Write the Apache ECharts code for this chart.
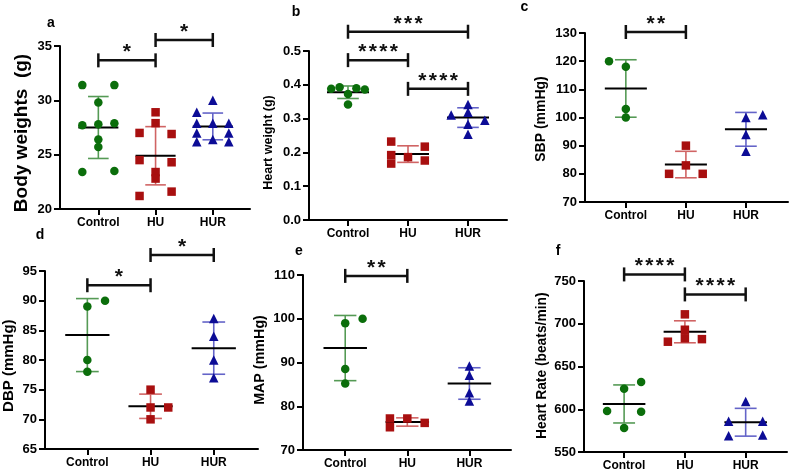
<!DOCTYPE html>
<html><head><meta charset="utf-8">
<script src="https://cdn.jsdelivr.net/npm/echarts@6/dist/echarts.min.js"></script>
<style>html,body{margin:0;padding:0;background:#fff}#c{width:789px;height:474px}</style>
</head><body><div id="c"></div>
<script>
// ---------- DATA ----------
const categories = ['Control', 'HU', 'HUR'];

// a: Body weights (g)
const aControl = [31.4, 31.4, 29.8, 27.7, 27.8, 27.9, 26.4, 25.7, 23.4, 23.5];
const aHU      = [28.9, 27.9, 27.0, 26.9, 24.5, 24.3, 23.4, 22.8, 21.2, 21.6];
const aHUR     = [30.0, 28.9, 27.9, 27.9, 27.9, 27.0, 27.0, 26.2, 26.4, 26.2];
const aSlots   = [[-2, 2, 0, -2, 0, 2, 0, 0, -2, 2], [0, 0, -2, 2, -2, 2, 0, 0, -2, 2], [0, -2, -2, 0, 2, -2, 2, -2, 0, 2]];
const aMean = [27.5, 24.9, 27.6];
const aSD   = [2.85, 2.68, 1.23];
const aBrackets = [{from: 0, to: 1, y: 33.68, label: '*'}, {from: 1, to: 2, y: 35.55, label: '*'}];

// b: Heart weight (g)
const bControl = [0.388, 0.393, 0.390, 0.386, 0.373, 0.342];
const bHU      = [0.232, 0.217, 0.192, 0.186, 0.167, 0.176];
const bHUR     = [0.342, 0.319, 0.311, 0.295, 0.283, 0.254];
const bSlots   = [[-2, -1, 1, 2, 0, 0], [-2, 2, -2, 0, -2, 2], [0, 0, -2, 2, 0, 0]];
const bMean = [0.378, 0.195, 0.303];
const bSD   = [0.0185, 0.0245, 0.029];
const bBrackets = [{from: 0, to: 2, y: 0.557, label: '***'}, {from: 0, to: 1, y: 0.473, label: '****'}, {from: 1, to: 2, y: 0.388, label: '****'}];

// c: SBP (mmHg)
const cControl = [120, 118, 103, 100];
const cHU      = [90, 80, 83, 80];
const cHUR     = [100, 101, 94, 88];
const cSlots   = [[-2, 0, 0, 0], [0, -2, 0, 2], [0, 2, 0, 0]];
const cMean = [110.3, 83.3, 95.8];
const cSD   = [10.2, 4.7, 6.0];
const cBrackets = [{from: 0, to: 1, y: 130.35, label: '**'}];

// d: DBP (mmHg)
const dControl = [89, 90, 80, 78];
const dHU      = [75, 72, 72, 70];
const dHUR     = [87, 84, 80, 77];
const dSlots   = [[0, 2, 0, 0], [0, 0, 2, 0], [0, 0, 0, 0]];
const dMean = [84.2, 72.2, 82.0];
const dSD   = [6.15, 2.05, 4.4];
const dBrackets = [{from: 0, to: 1, y: 92.6, label: '*'}, {from: 1, to: 2, y: 97.7, label: '*'}];

// e: MAP (mmHg)
const eControl = [99, 100, 88.5, 85.2];
const eHU      = [77.2, 77.2, 76.2, 75.2];
const eHUR     = [89.2, 87.1, 83.1, 81.2];
const eSlots   = [[0, 2, 0, 0], [-2, 0, 2, -2], [0, 0, 0, 0]];
const eMean = [93.3, 76.4, 85.2];
const eSD   = [7.45, 0.95, 3.6];
const eBrackets = [{from: 0, to: 1, y: 109.8, label: '**'}];

// f: Heart Rate (beats/min)
const fControl = [624, 632, 598, 597, 578];
const fHU      = [711, 693, 683, 679, 682];
const fHUR     = [609, 586, 586, 569, 570];
const fSlots   = [[0, 2, -2, 2, 0], [0, 0, 0, -2, 2], [0, -2, 2, -2, 2]];
const fMean = [606.2, 690.6, 584.8];
const fSD   = [22.25, 12.85, 16.25];
const fBrackets = [{from: 0, to: 1, y: 757.7, label: '****'}, {from: 1, to: 2, y: 734.3, label: '****'}];

// ---------- STYLE / LAYOUT ----------
const FONT = '"Liberation Sans", Arial, sans-serif';
const pointColors = ['#0b6e0b', '#a80f0f', '#0c0c96'];
const sdColors = ['#559a55', '#d06464', '#6464c8'];
const symbols = ['circle', 'rect', 'triangle'];
const symbolSizes = [8.5, 8.5, 9.5];
const slotW = 0.14;

const panels = [
  {letter: 'a', title: 'Body weights  (g)', groups: [aControl, aHU, aHUR], slots: aSlots, mean: aMean, sd: aSD, brackets: aBrackets,
   y: [20, 35, 5], dec: 0, grid: {left: 60, top: 46, width: 190, height: 163}, x: [-0.67, 2.65],
   titlePos: [22, 133], titleSize: 19, letterPos: [51, 23]},
  {letter: 'b', title: 'Heart weight (g)', groups: [bControl, bHU, bHUR], slots: bSlots, mean: bMean, sd: bSD, brackets: bBrackets,
   y: [0, 0.5, 0.1], dec: 1, grid: {left: 309, top: 51, width: 198, height: 169}, x: [-0.65, 2.65],
   titlePos: [268.5, 142.5], titleSize: 12.5, letterPos: [296, 12]},
  {letter: 'c', title: 'SBP (mmHg)', groups: [cControl, cHU, cHUR], slots: cSlots, mean: cMean, sd: cSD, brackets: cBrackets,
   y: [70, 130, 10], dec: 0, grid: {left: 585, top: 33, width: 203, height: 169}, x: [-0.68, 2.7],
   titlePos: [541, 119], titleSize: 14, letterPos: [524.5, 7]},
  {letter: 'd', title: 'DBP (mmHg)', groups: [dControl, dHU, dHUR], slots: dSlots, mean: dMean, sd: dSD, brackets: dBrackets,
   y: [65, 95, 5], dec: 0, grid: {left: 45, top: 271, width: 213, height: 178}, x: [-0.67, 2.7],
   titlePos: [8.5, 365.7], titleSize: 15, letterPos: [40, 235]},
  {letter: 'e', title: 'MAP (mmHg)', groups: [eControl, eHU, eHUR], slots: eSlots, mean: eMean, sd: eSD, brackets: eBrackets,
   y: [70, 110, 10], dec: 0, grid: {left: 303, top: 275, width: 208, height: 175}, x: [-0.68, 2.67],
   titlePos: [260, 360], titleSize: 14.3, letterPos: [299, 251]},
  {letter: 'f', title: 'Heart Rate (beats/min)', groups: [fControl, fHU, fHUR], slots: fSlots, mean: fMean, sd: fSD, brackets: fBrackets,
   y: [550, 750, 50], dec: 0, grid: {left: 584, top: 281, width: 203, height: 171}, x: [-0.66, 2.68],
   titlePos: [541.7, 365.7], titleSize: 13.8, letterPos: [558, 251]}
];

const grids = [], xAxes = [], yAxes = [], series = [], graphics = [];

panels.forEach((p, i) => {
  grids.push(Object.assign({containLabel: false}, p.grid));
  xAxes.push({
    type: 'value', gridIndex: i, min: p.x[0], max: p.x[1],
    axisLine: {show: true, onZero: false, lineStyle: {color: '#000', width: 2}},
    axisTick: {show: true, customValues: [0, 1, 2], length: 6, lineStyle: {color: '#000', width: 2}},
    axisLabel: {show: true, customValues: [0, 1, 2], formatter: v => categories[Math.round(v)] || '',
      color: '#000', fontWeight: 'bold', fontSize: 12, fontFamily: FONT, margin: 8},
    splitLine: {show: false}
  });
  yAxes.push({
    type: 'value', gridIndex: i, min: p.y[0], max: p.y[1], interval: p.y[2],
    axisLine: {show: true, onZero: false, lineStyle: {color: '#000', width: 2}},
    axisTick: {show: true, length: 6, lineStyle: {color: '#000', width: 2}},
    axisLabel: {color: '#000', fontWeight: 'bold', fontSize: 13, fontFamily: FONT, margin: 8,
      formatter: v => Number(v).toFixed(p.dec)},
    splitLine: {show: false}
  });
  // points
  p.groups.forEach((vals, g) => {
    series.push({
      type: 'scatter', xAxisIndex: i, yAxisIndex: i, z: 3,
      symbol: symbols[g], symbolSize: symbolSizes[g],
      itemStyle: {color: pointColors[g], opacity: 1},
      data: vals.map((v, k) => [g + p.slots[g][k] * slotW, v]),
      silent: true
    });
  });
  // mean + SD
  series.push({
    type: 'custom', xAxisIndex: i, yAxisIndex: i, z: 2, clip: false, silent: true,
    data: p.mean.map((m, g) => [g, m, p.sd[g]]),
    renderItem: (params, api) => {
      const g = api.value(0), m = api.value(1), s = api.value(2);
      const c = (x, y) => api.coord([x, y]);
      const ml = c(g - 0.35, m), mr = c(g + 0.35, m);
      const t = c(g, m + s), b = c(g, m - s);
      const tl = c(g - 0.18, m + s), tr = c(g + 0.18, m + s);
      const bl = c(g - 0.18, m - s), br = c(g + 0.18, m - s);
      const sdStyle = {stroke: sdColors[g], lineWidth: 1.6};
      return {type: 'group', children: [
        {type: 'line', shape: {x1: t[0], y1: t[1], x2: b[0], y2: b[1]}, style: sdStyle},
        {type: 'line', shape: {x1: tl[0], y1: tl[1], x2: tr[0], y2: tr[1]}, style: sdStyle},
        {type: 'line', shape: {x1: bl[0], y1: bl[1], x2: br[0], y2: br[1]}, style: sdStyle},
        {type: 'line', shape: {x1: ml[0], y1: ml[1], x2: mr[0], y2: mr[1]}, style: {stroke: '#000', lineWidth: 2}}
      ]};
    }
  });
  // significance brackets
  series.push({
    type: 'custom', xAxisIndex: i, yAxisIndex: i, z: 4, clip: false, silent: true,
    data: p.brackets.map(b => [b.from, b.y, b.to]),
    renderItem: (params, api) => {
      const bk = p.brackets[params.dataIndex];
      const p1 = api.coord([bk.from, bk.y]), p2 = api.coord([bk.to, bk.y]);
      const tk = 7;
      const ls = {stroke: '#111', lineWidth: 2.5};
      const ch = [
        {type: 'line', shape: {x1: p1[0], y1: p1[1], x2: p2[0], y2: p2[1]}, style: ls},
        {type: 'line', shape: {x1: p1[0], y1: p1[1] - tk, x2: p1[0], y2: p1[1] + tk}, style: ls},
        {type: 'line', shape: {x1: p2[0], y1: p2[1] - tk, x2: p2[0], y2: p2[1] + tk}, style: ls}
      ];
      const n = bk.label.length, pitch = 10.5, cx = (p1[0] + p2[0]) / 2;
      for (let k = 0; k < n; k++) {
        ch.push({type: 'text', style: {
          x: cx + (k - (n - 1) / 2) * pitch, y: p1[1] - 8, text: bk.label[k],
          font: 'bold 21px ' + FONT, fill: '#111',
          align: 'center', verticalAlign: 'middle', textAlign: 'center', textVerticalAlign: 'middle'}});
      }
      return {type: 'group', children: ch};
    }
  });
  // title + letter
  graphics.push({
    type: 'text', x: p.titlePos[0], y: p.titlePos[1], rotation: Math.PI / 2,
    style: {text: p.title, font: 'bold ' + p.titleSize + 'px ' + FONT, fill: '#000',
      align: 'center', verticalAlign: 'middle', textAlign: 'center', textVerticalAlign: 'middle'}
  });
  graphics.push({
    type: 'text', x: p.letterPos[0], y: p.letterPos[1],
    style: {text: p.letter, font: 'bold 14px ' + FONT, fill: '#000',
      align: 'center', verticalAlign: 'middle', textAlign: 'center', textVerticalAlign: 'middle'}
  });
});

const chart = echarts.init(document.getElementById('c'), null, {renderer: 'canvas'});
chart.setOption({
  animation: false,
  backgroundColor: '#fff',
  grid: grids, xAxis: xAxes, yAxis: yAxes, series: series, graphic: graphics
});
</script></body></html>
